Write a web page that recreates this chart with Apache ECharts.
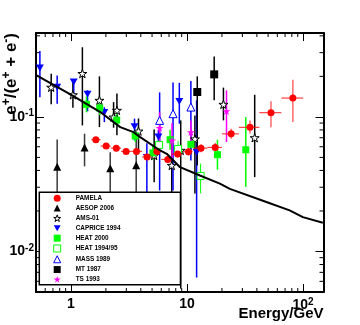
<!DOCTYPE html>
<html><head><meta charset="utf-8">
<script src="https://cdn.jsdelivr.net/npm/echarts@6.0.0/dist/echarts.min.js"></script>
<style>html,body{margin:0;padding:0;background:#fff}#c{width:360px;height:325px}</style>
</head><body><div id="c"></div>
<script>
// ---------- data ----------
const pamE   = [1.64, 2.01, 2.46, 2.99, 3.67, 4.53, 5.50, 6.83, 8.30, 10.3, 13.2, 17.5, 24.0, 34.9, 52.9, 81.7];
const pamF   = [0.0677,0.0607,0.0586,0.0554,0.0554,0.0504,0.0554,0.0483,0.0529,0.0551,0.0586,0.0593,0.0748,0.0836,0.1075,0.138];
const pamFlo = [0.0655,0.0589,0.0568,0.0535,0.0534,0.0484,0.0530,0.0460,0.0500,0.0516,0.0546,0.0545,0.0688,0.0752,0.0836,0.0918];
const pamFhi = [0.0699,0.0625,0.0604,0.0573,0.0574,0.0524,0.0578,0.0506,0.0558,0.0586,0.0626,0.0641,0.0817,0.0941,0.1304,0.189];
const pamElo = [1.5,1.8,2.2,2.7,3.3,4.1,5.0,6.0,7.4,9.1,11.2,15,20,28,42,65];
const pamEhi = [1.8,2.2,2.7,3.3,4.1,5.0,6.0,7.4,9.1,11.2,15,20,28,42,65,100];

const aesE  = [0.761, 1.31, 2.18, 3.65];
const aesF  = [0.0426, 0.0593, 0.0416, 0.0438];
const aesLo = [0.015, 0.0429, 0.015, 0.015];
const aesHi = [0.068, 0.075, 0.0547, 0.0729];

const amsE  = [0.676, 1.04, 1.255, 1.76, 2.33, 2.49, 3.82, 5.21, 7.39, 8.83, 11.7, 20.6, 38.3];
const amsF  = [0.166, 0.146, 0.21, 0.1327, 0.0997, 0.1118, 0.0784, 0.0517, 0.0436, 0.0564, 0.0686, 0.1239, 0.070];
const amsLo = [0.124, 0.117, 0.0864, 0.084, 0.0831, 0.0729, 0.0564, 0.0327, 0.024, 0.0053, 0.027, 0.0942, 0.0357];
const amsHi = [0.209, 0.187, 0.329, 0.2, 0.1288, 0.149, 0.0974, 0.0807, 0.0636, 0.0942, 0.1026, 0.165, 0.146];

const capE  = [0.54, 0.761, 1.057, 1.39, 1.94, 3.53, 4.51, 5.67, 8.59, 12.1];
const capF  = [0.231, 0.166, 0.182, 0.1475, 0.108, 0.0846, 0.050, 0.071, 0.1304, 0.0545];
const capLo = [0.14, 0.125, 0.142, 0.11, 0.0915, 0.0669, 0.017, 0.0564, 0.089, 0.0064];
const capHi = [0.309, 0.203, 0.19, 0.158, 0.118, 0.097, 0.0636, 0.0794, 0.179, 0.1327];

const h00E  = [1.36, 1.77, 2.48, 3.58, 5.08, 7.15, 10.8, 18.3, 32.1];
const h00F  = [0.124, 0.1163, 0.0947, 0.0722, 0.054, 0.0677, 0.0625, 0.0524, 0.057];
const h00Lo = [0.108, 0.103, 0.0855, 0.0652, 0.048, 0.057, 0.0527, 0.0405, 0.0301];
const h00Hi = [0.142, 0.131, 0.105, 0.080, 0.0609, 0.0803, 0.0741, 0.0677, 0.0997];

const h94E  = [5.75, 8.38, 13.1];
const h94F  = [0.0619, 0.0578, 0.0364];
const h94Lo = [0.054, 0.0504, 0.027];
const h94Hi = [0.071, 0.0663, 0.045];

const masE  = [5.81, 7.58, 10.8];
const masF  = [0.0942, 0.1056, 0.1183];
const masLo = [0.0284, 0.0284, 0.0475];
const masHi = [0.152, 0.18, 0.185];

const mtE   = [12.26, 17.15];
const mtF   = [0.153, 0.207];
const mtLo  = [0.0436, 0.1327];
const mtHi  = [0.2, 0.281];

const tsE   = [5.81, 7.43, 10.8, 21.9];
const tsF   = [0.0829, 0.0669, 0.077, 0.1104];
const tsLo  = [0.0658, 0.0475, 0.0614, 0.065];
const tsHi  = [0.108, 0.0895, 0.0942, 0.1575];

const thE = [0.506, 1.024, 1.79, 2.66, 3.46, 3.95, 5.87, 6.69, 8.71, 12.93, 19.2, 23.4, 48.3, 76.6, 99.6, 148];
const thF = [0.2035, 0.1445, 0.1086, 0.084, 0.077, 0.0707, 0.0563, 0.0532, 0.0423, 0.0367, 0.0319, 0.0292, 0.0233, 0.0202, 0.018, 0.01634];

const xTickVals = [1, 10, 100];
const xTickText = ['1', '10', '10^2'];
const yTickVals = [0.01, 0.1];
const yTickText = ['10^-2', '10^-1'];
const xMinorTicks = [0.6,0.7,0.8,0.9,2,3,4,5,6,7,8,9,20,30,40,50,60,70,80,90];
const yMinorTicks = [0.006,0.007,0.008,0.009,0.02,0.03,0.04,0.05,0.06,0.07,0.08,0.09,0.2,0.3,0.4];

const legendNames = ['PAMELA','AESOP 2006','AMS-01','CAPRICE 1994','HEAT 2000','HEAT 1994/95','MASS 1989','MT 1987','TS 1993'];

// ---------- helpers ----------
const FONT = 'Liberation Sans';
const STAR = 'path://M0,-100 L22.45,-30.9 L95.1,-30.9 L36.33,11.8 L58.8,80.9 L0,38.2 L-58.8,80.9 L-36.33,11.8 L-95.1,-30.9 L-22.45,-30.9Z';
const DOWN_TRI = 'path://M-50,-43 L50,-43 L0,43 Z';

const styles = {
  'PAMELA':       { sym: 'circle',   size: 7, fill: '#ff0000', border: '#ff0000', bw: 0 },
  'AESOP 2006':   { sym: 'triangle', size: 8, fill: '#000000', border: '#000000', bw: 0 },
  'AMS-01':       { sym: STAR,       size: 9, fill: '#ffffff', border: '#000000', bw: 1 },
  'CAPRICE 1994': { sym: DOWN_TRI,   size: 8, fill: '#0000ff', border: '#0000ff', bw: 0 },
  'HEAT 2000':    { sym: 'rect',     size: 7, fill: '#00ff00', border: '#00ff00', bw: 0 },
  'HEAT 1994/95': { sym: 'rect',     size: 7, fill: '#ffffff', border: '#00ff00', bw: 1 },
  'MASS 1989':    { sym: 'triangle', size: 8, fill: '#ffffff', border: '#0000ff', bw: 1 },
  'MT 1987':      { sym: 'rect',     size: 8, fill: '#000000', border: '#000000', bw: 0 },
  'TS 1993':      { sym: STAR,       size: 8, fill: '#ff00ff', border: '#ff00ff', bw: 0 }
};

function toRich(t) {
  const i = t.indexOf('^');
  return i < 0 ? t : t.slice(0, i) + '{sup|' + t.slice(i + 1) + '}';
}
function tickFmt(vals, texts) {
  return function (v) {
    for (let i = 0; i < vals.length; i++) {
      if (Math.abs(Math.log10(v) - Math.log10(vals[i])) < 1e-6) return toRich(texts[i]);
    }
    return '';
  };
}
function errSeries(name, E, F, lo, hi, color, width, elo, ehi) {
  return {
    type: 'custom', name: name + ' err', silent: true, clip: true,
    data: E.map((e, i) => [e, F[i], lo[i], hi[i], elo ? elo[i] : e, ehi ? ehi[i] : e]),
    renderItem: function (params, api) {
      const x = api.value(0), y = api.value(1), l = api.value(2), h = api.value(3), a = api.value(4), b = api.value(5);
      const p1 = api.coord([x, l]), p2 = api.coord([x, h]);
      const ch = [{ type: 'line', shape: { x1: p1[0], y1: p1[1], x2: p2[0], y2: p2[1] }, style: { stroke: color, lineWidth: width } }];
      if (a !== b) {
        const q1 = api.coord([a, y]), q2 = api.coord([b, y]);
        ch.push({ type: 'line', shape: { x1: q1[0], y1: q1[1], x2: q2[0], y2: q2[1] }, style: { stroke: color, lineWidth: width } });
      }
      return { type: 'group', children: ch };
    }
  };
}
function scat(name, E, F) {
  const s = styles[name];
  return {
    type: 'scatter', name: name, symbol: s.sym, symbolSize: s.size, symbolKeepAspect: true,
    data: E.map((e, i) => [e, F[i]]),
    itemStyle: { color: s.fill, borderColor: s.border, borderWidth: s.bw, opacity: 1 },
    emphasis: { disabled: true }
  };
}

const supRich = { sup: { fontSize: 10, fontWeight: 'bold', fontFamily: FONT, color: '#000', verticalAlign: 'bottom', padding: [0, 0, 7, 0] } };

const axisCommon = {
  type: 'log', logBase: 10,
  axisLine: { show: true, onZero: false, lineStyle: { color: '#000', width: 2 } },
  axisTick: { show: true, inside: true, length: 8, lineStyle: { color: '#000', width: 1 } },
  splitLine: { show: false }, minorTick: { show: false }, minorSplitLine: { show: false }
};

const chart = echarts.init(document.getElementById('c'), null, { renderer: 'canvas' });
chart.setOption({
  animation: false,
  backgroundColor: '#fff',
  grid: { left: 36, right: 36.5, top: 33, bottom: 33, outerBoundsMode: 'none', containLabel: false },
  xAxis: [
    Object.assign({}, axisCommon, { min: 0.5, max: 150, position: 'bottom',
      axisLabel: { formatter: tickFmt(xTickVals, xTickText), margin: 5, fontSize: 14, fontWeight: 'bold', fontFamily: FONT, color: '#000', rich: supRich, showMinLabel: true, showMaxLabel: true, hideOverlap: false } }),
    Object.assign({}, axisCommon, { min: 0.5, max: 150, position: 'top', axisLabel: { show: false } })
  ],
  yAxis: [
    Object.assign({}, axisCommon, { min: 0.005, max: 0.42, position: 'left',
      axisLabel: { formatter: tickFmt(yTickVals, yTickText), margin: 2, fontSize: 14, fontWeight: 'bold', fontFamily: FONT, color: '#000', rich: supRich, hideOverlap: false } }),
    Object.assign({}, axisCommon, { min: 0.005, max: 0.42, position: 'right', axisLabel: { show: false } })
  ],
  legend: {
    data: legendNames.map(n => ({
      name: n, icon: styles[n].sym,
      itemStyle: { color: styles[n].fill, borderColor: styles[n].border, borderWidth: styles[n].bw }
    })),
    orient: 'vertical', left: 39.3, top: 192.3,
    padding: [2.5, 60, 2, 13.9], itemWidth: 7, itemHeight: 7, itemGap: 2.8,
    symbolKeepAspect: true,
    backgroundColor: '#fff', borderColor: '#000', borderWidth: 1.5, borderRadius: 0,
    selectedMode: false,
    textStyle: { fontSize: 6.4, fontWeight: 'bold', fontFamily: FONT, color: '#000', lineHeight: 7, padding: [0, 0, 0, 10] }
  },
  graphic: [
    { type: 'text', x: 11.5, y: 33, rotation: Math.PI / 2,
      style: { text: 'e{sup|+}/(e{sup|+} + e{sup|-})', fontSize: 17, fontWeight: 'bold', fontFamily: FONT, fill: '#000', align: 'right', verticalAlign: 'middle',
        rich: { sup: { fontSize: 12, fontWeight: 'bold', fontFamily: FONT, fill: '#000', verticalAlign: 'bottom', padding: [0, 0, 9, 0] } } } },
    { type: 'text', x: 323.5, y: 314.3,
      style: { text: 'Energy/GeV', fontSize: 15, fontWeight: 'bold', fontFamily: FONT, fill: '#000', align: 'right', verticalAlign: 'middle' } }
  ],
  series: [
    {
      type: 'custom', name: 'minor ticks', silent: true, clip: false,
      data: xMinorTicks.map(v => [v, 0.1, 0]).concat(yMinorTicks.map(v => [1, v, 1])),
      renderItem: function (params, api) {
        const cs = params.coordSys;
        const p = api.coord([api.value(0), api.value(1)]);
        const st = { stroke: '#000', lineWidth: 1 };
        const L = 4;
        if (api.value(2) === 0) {
          return { type: 'group', children: [
            { type: 'line', shape: { x1: p[0], y1: cs.y + cs.height, x2: p[0], y2: cs.y + cs.height - L }, style: st },
            { type: 'line', shape: { x1: p[0], y1: cs.y, x2: p[0], y2: cs.y + L }, style: st }
          ] };
        }
        return { type: 'group', children: [
          { type: 'line', shape: { x1: cs.x, y1: p[1], x2: cs.x + L, y2: p[1] }, style: st },
          { type: 'line', shape: { x1: cs.x + cs.width, y1: p[1], x2: cs.x + cs.width - L, y2: p[1] }, style: st }
        ] };
      }
    },
    errSeries('AESOP 2006', aesE, aesF, aesLo, aesHi, '#3a3a3a', 1.5),
    scat('AESOP 2006', aesE, aesF),
    errSeries('AMS-01', amsE, amsF, amsLo, amsHi, '#000', 1.5),
    scat('AMS-01', amsE, amsF),
    errSeries('CAPRICE 1994', capE, capF, capLo, capHi, '#0000ff', 1.5),
    scat('CAPRICE 1994', capE, capF),
    errSeries('HEAT 2000', h00E, h00F, h00Lo, h00Hi, '#00ff00', 1.5),
    scat('HEAT 2000', h00E, h00F),
    errSeries('HEAT 1994/95', h94E, h94F, h94Lo, h94Hi, '#00ff00', 1),
    scat('HEAT 1994/95', h94E, h94F),
    errSeries('MASS 1989', masE, masF, masLo, masHi, '#0000ff', 1.5),
    scat('MASS 1989', masE, masF),
    errSeries('MT 1987', mtE, mtF, mtLo, mtHi, '#000', 1.5),
    scat('MT 1987', mtE, mtF),
    errSeries('TS 1993', tsE, tsF, tsLo, tsHi, '#ff00ff', 1.5),
    scat('TS 1993', tsE, tsF),
    errSeries('PAMELA', pamE, pamF, pamFlo, pamFhi, 'rgba(255,0,0,0.75)', 1.2, pamElo, pamEhi),
    scat('PAMELA', pamE, pamF),
    {
      type: 'line', name: 'secondary', data: thE.map((e, i) => [e, thF[i]]),
      showSymbol: false, symbol: 'none', smooth: false, silent: true,
      lineStyle: { color: '#000', width: 2 }
    }
  ]
});
</script></body></html>
